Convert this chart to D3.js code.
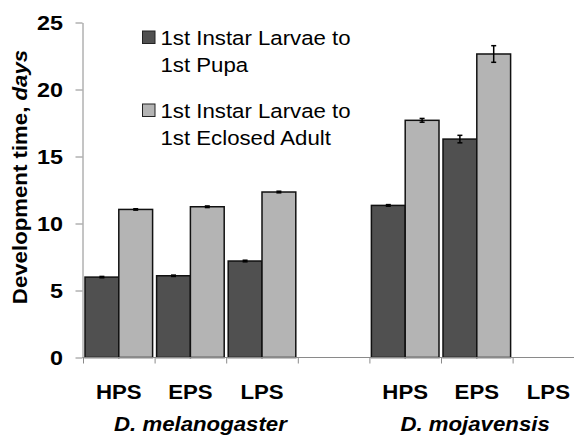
<!DOCTYPE html>
<html>
<head>
<meta charset="utf-8">
<script src="https://cdn.jsdelivr.net/npm/d3@7"></script>
<style>
  html, body { margin: 0; padding: 0; background: #fff; }
  svg { display: block; }
  text { font-family: "Liberation Sans", Arial, sans-serif; fill: #000; }
</style>
</head>
<body>
<svg id="chart" width="574" height="435"></svg>
<script>
// ---- data ----
const slotKeys = ["mel-HPS", "mel-EPS", "mel-LPS", "gap", "moj-HPS", "moj-EPS", "moj-LPS"];
const slotLabels = ["HPS", "EPS", "LPS", "", "HPS", "EPS", "LPS"];
const speciesNames = ["D. melanogaster", "D. mojavensis"];
const speciesFirstSlot = [0, 4];
const seriesNames = ["1st Instar Larvae to\n1st Pupa", "1st Instar Larvae to\n1st Eclosed Adult"];
const pupaValues = [6.0, 6.1, 7.2, null, 11.35, 16.3, null];
const adultValues = [11.05, 11.25, 12.35, null, 17.7, 22.65, null];
const pupaErrors = [0.05, 0.05, 0.06, null, 0.06, 0.28, null];
const adultErrors = [0.05, 0.06, 0.06, null, 0.14, 0.62, null];
const yTicks = [0, 5, 10, 15, 20, 25];
const seriesColors = ["#505050", "#b4b4b4"];

// ---- layout ----
const svg = d3.select("#chart");
const axisColor = "#8a8a8a";
const sx = 1.14;           // horizontal text stretch to match the reference glyphs
const fs = 19.5;

const x0 = 83, slotW = 71.6;
const xBound = d3.scaleLinear().domain([0, slotKeys.length]).range([x0, x0 + slotW * slotKeys.length]);
const x = d3.scaleBand().domain(slotKeys).range([x0, x0 + slotW * slotKeys.length]).padding(0);
const xs = d3.scaleBand().domain([0, 1]).range([2, slotW - 2]).padding(0);
const y = d3.scaleLinear().domain([0, 25]).range([357.5, 22.5]);

function stretchedText(g, tx, ty, str, opts = {}) {
  const t = g.append("text")
    .attr("transform", `translate(${tx},${ty}) ${opts.rotate ? "rotate(" + opts.rotate + ")" : ""} scale(${sx},1)`)
    .attr("text-anchor", opts.anchor || "start")
    .style("font-size", (opts.size || fs) + "px")
    .style("font-weight", opts.weight || "normal")
    .style("font-style", opts.style || "normal");
  if (opts.dy) t.attr("dy", opts.dy);
  return t.text(str);
}

// ---- bars ----
const series = [pupaValues, adultValues];
const errors = [pupaErrors, adultErrors];
series.forEach((vals, si) => {
  const data = slotKeys.map((k, i) => ({ k, v: vals[i], e: errors[si][i] })).filter(d => d.v != null);
  svg.append("g").selectAll("rect").data(data).join("rect")
    .attr("x", d => x(d.k) + xs(si))
    .attr("width", xs.bandwidth())
    .attr("y", d => y(d.v))
    .attr("height", d => y(0) - y(d.v))
    .attr("fill", seriesColors[si])
    .attr("stroke", "#111")
    .attr("stroke-width", 1.5);
  const eg = svg.append("g").attr("stroke", "#000").attr("stroke-width", 1.5);
  data.forEach(d => {
    const cx = x(d.k) + xs(si) + xs.bandwidth() / 2;
    eg.append("line").attr("x1", cx).attr("x2", cx).attr("y1", y(d.v + d.e)).attr("y2", y(d.v - d.e));
    eg.append("line").attr("x1", cx - 2.5).attr("x2", cx + 2.5).attr("y1", y(d.v + d.e)).attr("y2", y(d.v + d.e));
    eg.append("line").attr("x1", cx - 2.5).attr("x2", cx + 2.5).attr("y1", y(d.v - d.e)).attr("y2", y(d.v - d.e));
  });
});

// ---- y axis ----
const yAxis = svg.append("g").attr("transform", "translate(82.5,0)")
  .call(d3.axisLeft(y).tickValues(yTicks).tickSize(7).tickSizeOuter(0).tickFormat(""));
yAxis.selectAll("path, line").attr("stroke", axisColor);
const yl = svg.append("g");
yTicks.forEach(t => {
  stretchedText(yl, 63, y(t), d3.format("d")(t), { anchor: "end", weight: "bold", dy: "0.36em", size: 20.5 });
});

// ---- x axis ----
const xAxis = svg.append("g").attr("transform", `translate(0,${y(0)})`)
  .call(d3.axisBottom(xBound).tickValues(d3.range(slotKeys.length + 1)).tickSize(6).tickSizeOuter(0).tickFormat(""));
xAxis.selectAll("line").attr("stroke", axisColor);
xAxis.select("path").attr("stroke", axisColor).attr("d", `M82.5,0H574`);

const xl = svg.append("g");
slotKeys.forEach((k, i) => {
  if (slotLabels[i]) stretchedText(xl, x(k) + x.bandwidth() / 2, 398.5, slotLabels[i], { anchor: "middle", weight: "bold" });
});
speciesNames.forEach((n, i) => {
  stretchedText(xl, xBound(speciesFirstSlot[i]) + 31, 431, n, { weight: "bold", style: "italic" });
});

// ---- y title ----
const yt = stretchedText(svg, 26.5, 177, "", { anchor: "middle", weight: "bold", rotate: -90 });
yt.append("tspan").text("Development time, ");
yt.append("tspan").style("font-style", "italic").text("days");

// ---- legend ----
const lg = svg.append("g");
const legendTop = [31, 104];
seriesNames.forEach((n, i) => {
  lg.append("rect").attr("x", 142.5).attr("y", legendTop[i]).attr("width", 12.5).attr("height", 12.5)
    .attr("fill", seriesColors[i]).attr("stroke", "#222").attr("stroke-width", 1);
  n.split("\n").forEach((line, j) => {
    stretchedText(lg, 160.5, legendTop[i] + 13.5 + j * 27, line, { size: 19.5 });
  });
});
</script>
</body>
</html>
